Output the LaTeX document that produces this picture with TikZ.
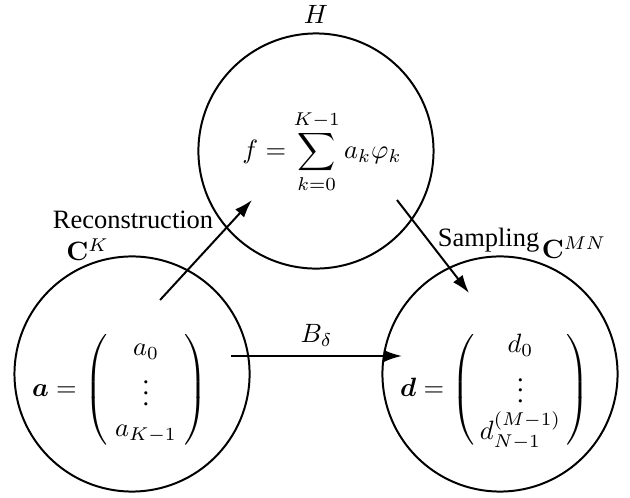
\documentclass[tikz,border=0pt]{standalone}
\usepackage{amsmath,amssymb,bm}
\usepackage[no-math]{fontspec}
\setmainfont{Liberation Serif}
\usetikzlibrary{arrows.meta,positioning}

\begin{document}
\begin{tikzpicture}[
    space/.style={draw, circle, line width=0.75pt, minimum size=3.12cm, inner sep=0pt},
    arrow/.style={-{Latex[length=2.4mm,width=1.6mm]}, line width=0.75pt},
    setname/.style={inner sep=1pt}
]
\useasboundingbox (0,0) rectangle (8.36,-6.596);

% Spaces
\node[space] (fspace) at (4.193,-2.004) {};
\node[space] (ck) at (1.752,-4.963) {};
\node[space] (cmn) at (6.635,-4.963) {};

% Elements
\node (fsum) at ([shift={(0.08,-0.01)}]fspace.center) {$f = \displaystyle\sum_{k=0}^{K-1} a_k\varphi_k$};
\node (avec) at ([shift={(-0.16,-0.212)}]ck.center) {$\bm{a} = \begin{pmatrix} a_0\\ \vdots\\ \hspace{3pt}a_{K-1}\hspace{3pt}\end{pmatrix}$};
\node (dvec) at ([shift={(-0.07,-0.212)}]cmn.center) {$\bm{d} = \begin{pmatrix} d_0\\ \vdots\\ \hspace{2pt}d_{N-1}^{(M-1)}\hspace{2pt}\end{pmatrix}$};

% Space names
\node[above=0pt of fspace.north] (hname) {$H$};
\node[setname, anchor=south] (ckname) at (ck.112) {$\mathbf{C}^K$};
\node[setname, anchor=south west] (cmnname) at (cmn.71) {$\mathbf{C}^{MN}$};

% Maps
\coordinate (recstart) at ([shift={(0.372,0.982)}]ck.center);
\coordinate (recend) at ([shift={(-0.849,-0.650)}]fspace.center);
\coordinate (samstart) at ([shift={(1.075,-0.650)}]fspace.center);
\coordinate (samend) at ([shift={(-0.411,1.075)}]cmn.center);
\coordinate (bstart) at ([shift={(1.314,0.239)}]ck.center);
\coordinate (bend) at ([shift={(-1.300,0.239)}]cmn.center);

\draw[arrow] (recstart) -- node[pos=0.8, left=4pt] {Reconstruction} (recend);
\draw[arrow] (samstart) -- node[pos=0.43, right] {Sampling} (samend);
\draw[arrow] (bstart) -- node[above] {$B_\delta$} (bend);
\end{tikzpicture}
\end{document}
